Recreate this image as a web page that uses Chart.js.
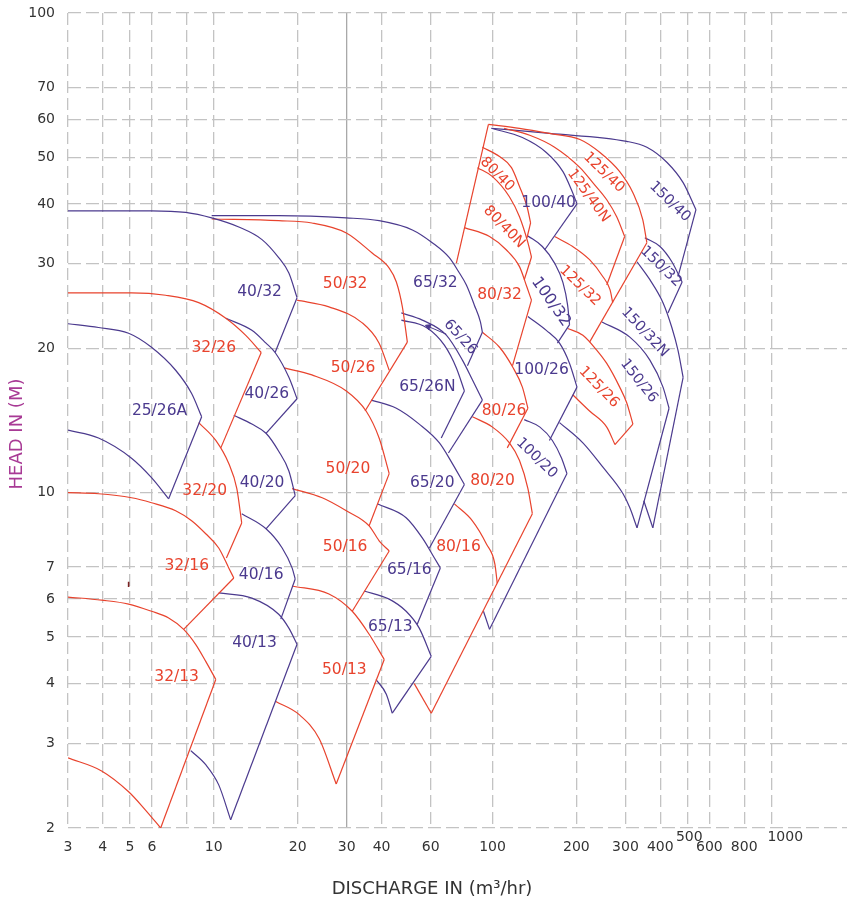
<!DOCTYPE html>
<html><head><meta charset="utf-8">
<script src="https://cdn.jsdelivr.net/npm/chart.js@4/dist/chart.umd.min.js"></script>
<style>html,body{margin:0;padding:0;background:#fff;}canvas{display:block;}</style>
</head><body>
<canvas id="c" width="847" height="904"></canvas>
<script>
// ---- axes ----
const xTicks = [3,4,5,6,8,10,20,30,40,60,100,200,300,400,500,600,800,1000];
const xTickLabels = ['3','4','5','6','','10','20','30','40','60','100','200','300','400','500','600','800','1000'];
const xRaisedTicks = [500,1000];
const yTicks = [2,3,4,5,6,7,10,20,30,40,50,60,70,100];
const yTickLabels = ['2','3','4','5','6','7','10','20','30','40','50','60','70','100'];

// ---- pump curves: [Q m3/hr, H m] (top curve points; last point = end of right boundary) ----
// 25 series
const p25_26A = [[3,22.5],[3.86,22.1],[4.95,21.5],[5.98,20.1],[7.3,18.0],[8.33,16.1],[9.05,14.4],[6.89,9.71]];
const p25_26A_min = [[3,13.5],[3.86,13.0],[5.07,11.8],[5.98,10.75],[6.89,9.71]];
// 32 series
const r32_26 = [[3,26.1],[5.07,26.1],[6.72,25.8],[8.83,24.9],[11.05,23.1],[13.0,21.3],[14.8,19.6],[10.6,12.4]];
const r32_20 = [[8.83,14.0],[10.17,12.85],[11.32,11.5],[12.1,10.2],[12.6,8.65],[11.1,7.31]];
const r32_16 = [[3,10.0],[3.86,9.95],[5.07,9.76],[5.98,9.53],[7.3,9.17],[8.33,8.74],[9.36,8.21],[10.42,7.67],[11.32,6.97],[11.8,6.64],[7.8,5.19]];
const r32_13 = [[3,6.06],[3.96,5.97],[4.95,5.86],[5.98,5.66],[6.89,5.48],[7.8,5.19],[8.61,4.83],[9.36,4.45],[10.17,4.08],[6.45,2.0]];
const r32_13_min = [[3,2.80],[3.96,2.63],[4.95,2.38],[5.69,2.18],[6.45,2.0]];
// 40 series
const p40_32 = [[3,38.7],[5.98,38.7],[7.93,38.4],[9.83,37.4],[12.3,35.8],[14.9,33.7],[17.1,30.9],[18.6,28.7],[19.9,25.5],[16.6,19.6]];
const p40_26 = [[11.05,23.1],[13.7,21.8],[15.4,20.5],[16.6,19.6],[18.6,17.4],[19.9,15.7],[15.4,13.3]];
const p40_20 = [[11.8,14.5],[13.7,13.9],[15.4,13.3],[17.1,12.2],[18.6,11.1],[19.6,9.86],[15.4,8.41]];
const p40_16 = [[12.6,9.04],[15.4,8.41],[17.6,7.67],[19.1,6.97],[19.6,6.61],[17.4,5.45]];
const p40_13 = [[10.42,6.18],[13.7,6.03],[17.1,5.58],[18.6,5.22],[19.9,4.83],[11.5,2.08]];
const p40_13_min = [[8.27,2.90],[9.36,2.71],[10.42,2.46],[11.5,2.08]];
// 50 series
const r50_32 = [[9.83,37.2],[17.1,36.9],[22.5,36.5],[29.9,34.8],[37.0,31.6],[42.6,29.4],[45.2,27.5],[47.5,24.4],[49.5,20.6],[34.9,14.8]];
const r50_26 = [[19.9,25.2],[25.9,24.4],[34.1,22.6],[39.2,20.5],[42.6,18.0]];
const r50_20 = [[17.9,18.2],[22.5,17.6],[29.9,16.3],[35.2,14.8],[39.2,13.0],[42.6,10.96],[36.1,8.53]];
const r50_16 = [[19.1,10.2],[24.5,9.76],[29.9,9.17],[36.1,8.53],[39.2,7.94],[42.6,7.56],[31.4,5.66]];
const r50_13 = [[19.1,6.39],[25.9,6.15],[31.4,5.66],[36.1,5.07],[40.9,4.49],[27.5,2.47]];
const r50_13_min = [[16.7,3.67],[20.2,3.45],[23.9,3.07],[27.5,2.47]];
// 65 series
const p65_32 = [[9.83,37.8],[17.1,37.8],[29.9,37.4],[39.2,36.9],[51.6,35.3],[60.8,33.2],[70.0,30.9],[76.1,28.7],[80.6,27.1],[86.1,24.6],[90.5,22.7],[92.0,21.6],[81.3,18.4]];
const p65_26 = [[47.1,23.7],[56.0,22.9],[68.3,21.3],[78.0,18.9],[84.7,17.2],[92.0,15.6],[69.5,12.1]];
const p65_26N = [[47.1,22.9],[57.9,22.1],[67.2,20.3],[74.2,18.2],[79.3,16.3],[65.5,13.0]];
const p65_20 = [[36.7,15.6],[45.2,15.0],[54.6,13.9],[64.5,12.7],[71.8,11.5],[79.3,10.4],[59.4,7.67]];
const p65_16 = [[38.6,9.48],[49.0,8.87],[56.0,8.05],[61.9,7.31],[65.0,6.97],[53.7,5.32]];
const p65_13 = [[34.6,6.24],[42.6,6.00],[49.0,5.66],[54.6,5.22],[60.3,4.56],[43.7,3.47]];
const p65_13_min = [[38.2,4.08],[41.6,3.80],[43.7,3.47]];
const p65_arrow = [[68.3,21.4],[58.9,22.2]];
// 80 series
const r80_edge = [[74.2,30.1],[96.7,58.6]];
const r80_40 = [[92.0,52.5],[106,50.2],[117,47.6],[125,43.5],[133,39.5],[137,36.5],[133,34.0]];
const r80_40N = [[88.3,47.6],[100,45.6],[115,41.4],[125,37.6],[134,33.2],[138,31.0],[130,27.8]];
const r80_32 = [[79.3,35.7],[97.6,34.2],[112,32.1],[125,29.6],[133,26.8],[138,25.2],[118,18.4]];
const r80_26 = [[92.0,21.6],[106,20.1],[118,18.3],[128,16.6],[134,15.0],[113,12.4]];
const r80_20 = [[84.7,14.4],[100,13.7],[115,12.7],[125,11.67],[134,10.2],[139,9.04],[60.3,3.47]];
const r80_16 = [[73.0,9.48],[84.7,8.74],[95.1,7.82],[102,7.10],[104,6.48]];
const r80_min = [[52.4,4.00],[60.3,3.47]];
// 100 series
const p100_40 = [[99.2,57.5],[128,55.0],[156,51.2],[179,46.7],[192,42.8],[201,40.0],[154,32.1]];
const p100_32 = [[134,34.3],[151,32.6],[167,30.1],[179,27.4],[186,24.6],[189,22.4],[171,20.5]];
const p100_26 = [[134,23.3],[156,21.8],[174,20.5],[189,18.6],[201,16.6],[160,12.85]];
const p100_20 = [[130,14.2],[148,13.7],[164,12.85],[177,11.8],[185,10.96],[97.6,5.19]];
const p100_20_min = [[92.8,5.66],[97.6,5.19]];
// 125 series
const r125_40 = [[96.7,58.6],[125,57.5],[160,56.1],[206,54.5],[243,51.2],[286,46.7],[319,42.2],[346,37.1],[358,33.2],[223,20.6]];
const r125_40N = [[110,57.5],[136,55.6],[167,52.5],[206,47.6],[229,44.3],[257,40.8],[279,37.6],[298,34.2],[257,27.1]];
const r125_32 = [[167,34.2],[194,32.6],[223,30.6],[249,28.2],[264,26.5],[270,24.9]];
const r125_26 = [[186,22.0],[211,21.3],[237,19.8],[257,18.6],[286,16.6],[303,15.4],[319,13.9],[275,12.6]];
const r125_26_min = [[194,16.0],[223,14.8],[257,13.7],[275,12.6]];
// 150 series
const p150_40 = [[99.2,57.5],[160,56.1],[303,54.0],[358,52.5],[423,48.8],[483,44.3],[537,38.9],[463,28.2]];
const p150_32 = [[352,34.0],[399,32.6],[440,30.3],[479,27.5],[426,23.7]];
const p150_32N = [[330,30.3],[367,27.8],[409,24.9],[440,22.1],[463,19.8],[483,17.4],[376,8.45]];
const p150_26 = [[247,22.7],[311,21.1],[367,18.9],[409,16.6],[430,15.0],[330,8.45]];
const p150_26_min = [[174,14.0],[211,12.7],[249,11.3],[294,9.95],[311,9.30],[330,8.45]];
const p150_26_v = [[349,9.62],[376,8.45]];
const mark = [[4.95,6.52],[4.95,6.36]];

// ---- curve labels: text, Q, H ----
const labelText = ['40/32','50/32','65/32','32/26','25/26A','40/26','50/26','65/26N','65/26','80/32','100/32','100/26','80/26','100/20','125/26','150/26','150/32N','150/32','150/40','125/32','125/40','125/40N','100/40','80/40','80/40N','32/20','40/20','50/20','65/20','80/20','32/16','40/16','50/16','65/16','80/16','65/13','40/13','50/13','32/13'];
const labelQ = [14.6,29.6,62.4,10.0,6.39,15.5,31.6,58.4,76.7,106,162,150,110,144,241,335,352,402,433,206,251,221,159,104,110,9.28,14.9,30.3,60.8,100,8.0,14.8,29.6,50.3,75.5,43.0,14.0,29.4,7.36];
const labelH = [26.2,27.2,27.4,20.0,14.8,16.1,18.2,16.6,21.1,25.8,25.0,18.0,14.8,11.8,16.6,17.1,21.6,29.6,40.4,27.0,46.5,41.6,40.2,46.1,35.8,10.1,10.5,11.2,10.5,10.6,7.04,6.74,7.71,6.90,7.71,5.24,4.86,4.28,4.12];
const labelSeries = ['p','r','p','r','p','p','r','p','p','r','p','p','r','p','r','p','p','p','p','r','r','r','p','r','r','r','p','r','p','r','r','p','r','p','r','p','p','r','r'];
const labelAngle = [0,0,0,0,0,0,0,0,48,0,55,0,0,44,46,52,47,44,44,44,44,54,0,45,46,0,0,0,0,0,0,0,0,0,0,0,0,0,0];

const RED = '#e8432d', PURPLE = '#4b3a8e';
const FONT = 'DejaVu Sans';

function curve(arr, color, hasEnd) {
  const out = [];
  const body = hasEnd ? arr.slice(0, -1) : arr;
  out.push({data: body.map(([x,y]) => ({x,y})), borderColor: color, borderWidth: 1.2, showLine: true,
            pointRadius: 0, pointHoverRadius: 0, cubicInterpolationMode: body.length > 2 ? 'monotone' : 'default', tension: 0, fill: false});
  if (hasEnd) {
    const a = arr[arr.length-2], b = arr[arr.length-1];
    out.push({data: [{x:a[0],y:a[1]},{x:b[0],y:b[1]}], borderColor: color, borderWidth: 1.2, showLine: true, pointRadius: 0, pointHoverRadius: 0, fill: false});
  }
  return out;
}
const datasets = [
  ...curve(p25_26A, PURPLE, true), ...curve(p25_26A_min, PURPLE, false),
  ...curve(r32_26, RED, true), ...curve(r32_20, RED, true), ...curve(r32_16, RED, true),
  ...curve(r32_13, RED, true), ...curve(r32_13_min, RED, false),
  ...curve(p40_32, PURPLE, true), ...curve(p40_26, PURPLE, true), ...curve(p40_20, PURPLE, true),
  ...curve(p40_16, PURPLE, true), ...curve(p40_13, PURPLE, true), ...curve(p40_13_min, PURPLE, false),
  ...curve(r50_32, RED, true), ...curve(r50_26, RED, false), ...curve(r50_20, RED, true),
  ...curve(r50_16, RED, true), ...curve(r50_13, RED, true), ...curve(r50_13_min, RED, false),
  ...curve(p65_32, PURPLE, true), ...curve(p65_26, PURPLE, true), ...curve(p65_26N, PURPLE, true),
  ...curve(p65_20, PURPLE, true), ...curve(p65_16, PURPLE, true), ...curve(p65_13, PURPLE, true),
  ...curve(p65_13_min, PURPLE, false),
  ...curve(r80_edge, RED, false), ...curve(r80_40, RED, true), ...curve(r80_40N, RED, true),
  ...curve(r80_32, RED, true), ...curve(r80_26, RED, true), ...curve(r80_20, RED, true),
  ...curve(r80_16, RED, false), ...curve(r80_min, RED, false),
  ...curve(p100_40, PURPLE, true), ...curve(p100_32, PURPLE, true), ...curve(p100_26, PURPLE, true),
  ...curve(p100_20, PURPLE, true), ...curve(p100_20_min, PURPLE, false),
  ...curve(r125_40, RED, true), ...curve(r125_40N, RED, true), ...curve(r125_32, RED, false),
  ...curve(r125_26, RED, true), ...curve(r125_26_min, RED, false),
  ...curve(p150_40, PURPLE, true), ...curve(p150_32, PURPLE, true), ...curve(p150_32N, PURPLE, true),
  ...curve(p150_26, PURPLE, true), ...curve(p150_26_min, PURPLE, false), ...curve(p150_26_v, PURPLE, false),
  {data: p65_arrow.map(([x,y]) => ({x,y})), borderColor: PURPLE, backgroundColor: PURPLE, borderWidth: 1, showLine: true,
   pointRadius: [0,3.2], pointHoverRadius: 0, pointStyle: 'triangle', rotation: 294},
  {data: mark.map(([x,y]) => ({x,y})), borderColor: '#7a2222', borderWidth: 1.6, showLine: true, pointRadius: 0, pointHoverRadius: 0}
];

const textPlugin = {
  id: 'texts',
  afterDatasetsDraw(chart) {
    const {ctx, scales: {x, y}} = chart;
    ctx.save();
    ctx.textAlign = 'center';
    ctx.textBaseline = 'middle';
    labelText.forEach((t, i) => {
      const px = x.getPixelForValue(labelQ[i]), py = y.getPixelForValue(labelH[i]);
      ctx.save();
      ctx.translate(px, py);
      ctx.rotate(labelAngle[i] * Math.PI / 180);
      const rot = labelAngle[i] !== 0;
      ctx.font = (t === '100/32' ? 16 : (rot ? 14.5 : 15.5)) + 'px "' + FONT + '"';
      ctx.fillStyle = labelSeries[i] === 'r' ? RED : PURPLE;
      ctx.fillText(t, 0, 0);
      ctx.restore();
    });
    // raised x tick labels
    ctx.font = '14px "' + FONT + '"';
    ctx.fillStyle = '#333';
    xRaisedTicks.forEach(v => {
      const px = x.getPixelForValue(v);
      const dx = v === 1000 ? 14 : 2;
      ctx.fillText(String(v), px + dx, 837);
    });
    // axis titles
    ctx.font = '18px "' + FONT + '"';
    ctx.fillStyle = '#333';
    ctx.fillText('DISCHARGE IN (m\u00B3/hr)', 432, 889);
    ctx.save();
    ctx.translate(17, 434);
    ctx.rotate(-Math.PI / 2);
    ctx.fillStyle = '#a83a95';
    ctx.fillText('HEAD IN (M)', 0, 0);
    ctx.restore();
    ctx.restore();
  }
};

new Chart(document.getElementById('c'), {
  type: 'scatter',
  data: {datasets},
  options: {
    responsive: false, animation: false, devicePixelRatio: 1,
    layout: {autoPadding: false, padding: {top: 13, left: 0, right: 0, bottom: 0}},
    plugins: {legend: {display: false}, tooltip: {enabled: false}},
    scales: {
      x: {
        type: 'logarithmic', position: 'bottom', min: 3, max: 1870,
        afterBuildTicks: s => { s.ticks = xTicks.map(v => ({value: v})); },
        afterFit: s => { s.height = 76; s.paddingLeft = 0; s.paddingRight = 0; },
        grid: {drawTicks: false, color: c => (c.tick && c.tick.value === 30) ? '#a9a9a9' : '#c3c3c3', lineWidth: 1.3},
        border: {display: false, dash: c => (c.tick && c.tick.value === 30) ? [] : [12, 5]},
        ticks: {autoSkip: false, maxRotation: 0, minRotation: 0, padding: 11, color: '#333',
                font: {family: FONT, size: 14},
                callback: v => { const i = xTicks.indexOf(v); return (i < 0 || xRaisedTicks.includes(v)) ? '' : xTickLabels[i]; }}
      },
      y: {
        type: 'logarithmic', position: 'left', min: 2, max: 100,
        afterBuildTicks: s => { s.ticks = yTicks.map(v => ({value: v})); },
        afterFit: s => { s.width = 68; s.paddingTop = 0; s.paddingBottom = 0; },
        grid: {drawTicks: false, color: '#c3c3c3', lineWidth: 1.3},
        border: {display: false, dash: [13, 5]},
        ticks: {autoSkip: false, padding: 13, color: '#333', font: {family: FONT, size: 14},
                callback: v => { const i = yTicks.indexOf(v); return i < 0 ? '' : yTickLabels[i]; }}
      }
    }
  },
  plugins: [textPlugin]
});
</script>
</body></html>
